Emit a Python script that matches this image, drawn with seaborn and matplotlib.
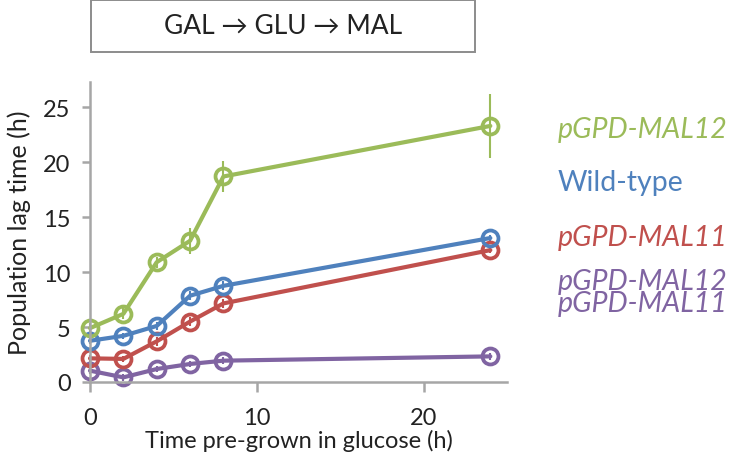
import numpy as np
import pandas as pd
import seaborn as sns
import matplotlib.pyplot as plt
from matplotlib.patches import Rectangle

# Values
hours = [0, 2, 4, 6, 8, 24]
series_names = ["pGPD-MAL12 pGPD-MAL11", "pGPD-MAL11", "Wild-type", "pGPD-MAL12"]
double_lag = [1.03, 0.42, 1.18, 1.64, 1.94, 2.33]
mal11_lag = [2.15, 2.1, 3.7, 5.5, 7.15, 12.0]
wt_lag = [3.75, 4.2, 5.1, 7.85, 8.75, 13.1]
mal12_lag = [4.9, 6.2, 10.9, 12.85, 18.7, 23.3]
double_err = [0.3, 0.3, 0.3, 0.3, 0.3, 0.3]
mal11_err = [0.3, 0.3, 0.4, 0.4, 0.4, 0.3]
wt_err = [0.3, 0.3, 0.4, 0.4, 0.4, 0.3]
mal12_err = [0.5, 0.5, 0.5, 1.2, 1.45, 2.95]
colors = ["#8064A2", "#C0504D", "#4F81BD", "#9BBB59"]

df = pd.DataFrame({
    "hours": hours * 4,
    "lag": double_lag + mal11_lag + wt_lag + mal12_lag,
    "err": double_err + mal11_err + wt_err + mal12_err,
    "strain": [s for s in series_names for _ in hours],
})

sns.set_style("ticks")
plt.rcParams["font.family"] = ["Lato", "DejaVu Sans"]

fig = plt.figure(figsize=(7.42, 4.64), dpi=100)
ax = fig.add_axes([90 / 742, 0.1746, 417 / 742, 0.6466])

# error bars first, then lines with hollow markers on top
for name, col in zip(series_names, colors):
    sub = df[df.strain == name]
    ax.errorbar(sub.hours, sub.lag, yerr=sub.err, fmt="none", ecolor=col,
                elinewidth=1.5, capsize=0, clip_on=False)
sns.lineplot(data=df, x="hours", y="lag", hue="strain", hue_order=series_names,
             palette=colors, marker="o", markersize=11.5, linewidth=3.0,
             legend=False, ax=ax)
for line in ax.get_lines():
    line.set_markerfacecolor("none")
    line.set_markeredgecolor(line.get_color())
    line.set_markeredgewidth(2.7)
    line.set_clip_on(False)

ax.set_xlim(0, 25)
ax.set_ylim(0, 27.3)
ax.set_xticks([0, 10, 20])
ax.set_yticks([0, 5, 10, 15, 20, 25])
ax.tick_params(axis="both", labelsize=17, colors="#A6A6A6", labelcolor="#222222",
               width=1.8)
ax.tick_params(axis="x", length=7, pad=11)
ax.tick_params(axis="y", length=6, pad=8)
for side in ["top", "right"]:
    ax.spines[side].set_visible(False)
for side in ["left", "bottom"]:
    ax.spines[side].set_color("#A6A6A6")
    ax.spines[side].set_linewidth(1.8)
ax.set_xlabel("Time pre-grown in glucose (h)", fontsize=17, color="#222222", labelpad=1)
ax.set_ylabel("Population lag time (h)", fontsize=18, color="#222222", labelpad=9)

# title box
fig.patches.append(Rectangle((91 / 742, 1 - 53 / 464), 384 / 742, 52 / 464,
                             transform=fig.transFigure, fill=False,
                             edgecolor="#8C8C8C", linewidth=1.4))
fig.text(283 / 742, 1 - 27 / 464, "GAL \u2192 GLU \u2192 MAL", ha="center",
         va="center", fontsize=19, color="#222222")

# strain labels
labels = [("pGPD-MAL12", 130, colors[3], "italic"),
          ("Wild-type", 183, colors[2], "normal"),
          ("pGPD-MAL11", 238, colors[1], "italic"),
          ("pGPD-MAL12\npGPD-MAL11", 293, colors[0], "italic")]
for txt, ypix, col, style in labels:
    fig.text(558 / 742, 1 - ypix / 464, txt, ha="left", va="center",
             fontsize=20.5, color=col, style=style, linespacing=0.78)

fig.savefig("out.png", dpi=100)
